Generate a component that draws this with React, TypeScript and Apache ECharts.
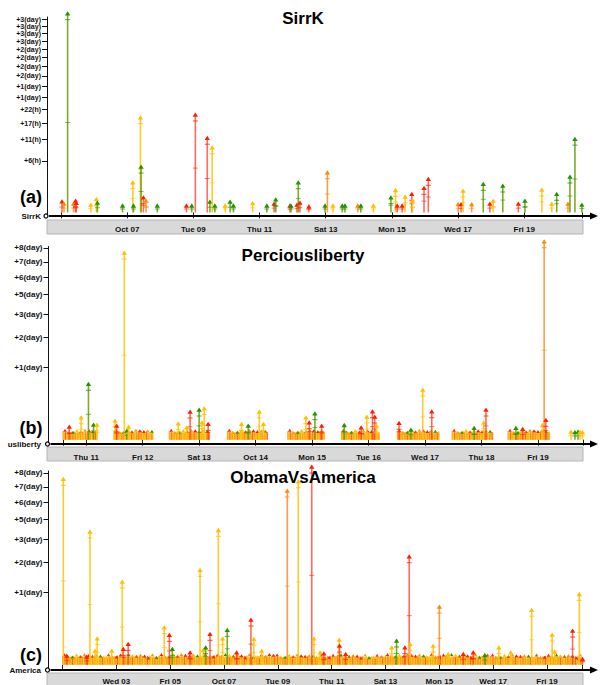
import React, { useEffect, useRef } from 'react';
import * as echarts from 'echarts';

// ---------- shared ----------
const FONT = 'Liberation Sans, Arial, sans-serif';
const COLOR_KEYS = ['g', 'y', 'o', 'r'];
const LINE_COLORS = ['rgba(105,155,0,0.85)', 'rgba(255,196,20,0.9)', 'rgba(255,140,40,0.85)', 'rgba(255,45,25,0.7)'];
const MARK_COLORS = ['#1f9600', '#ffbf00', '#ff8a00', '#ff1f00'];

// ---------- panel (a) SirrK ----------
const titleA = 'SirrK';
const yTickHoursA = [5.6, 11.2, 16.8, 22.4, 28, 33.6, 39.2, 44.8, 50.4, 56, 61.6, 67.2, 72.8, 78.4];
const yTickLabelsA = ['+6(h)', '+11(h)', '+17(h)', '+22(h)', '+1(day)', '+1(day)', '+2(day)', '+2(day)', '+2(day)', '+2(day)', '+3(day)', '+3(day)', '+3(day)', '+3(day)'];
const xTickDaysA = [5, 7, 9, 11, 13, 15, 17, 19, 20.744];
const xLabelDaysA = [7, 9, 11, 13, 15, 17, 19];
const xLabelsA = ['Oct 07', 'Tue 09', 'Thu 11', 'Sat 13', 'Mon 15', 'Wed 17', 'Fri 19'];
// [day of October 2012, hours, colour]
const eventsA: [number, number, string][] = [
  [5.03, 0.29, 'r'], [5.09, 0.19, 'o'], [5.2, 83.9, 'g'], [5.38, 0.19, 'o'], [5.44, 0.32, 'r'], [5.46, 0.22, 'r'],
  [5.9, 0.15, 'y'], [6.07, 0.42, 'y'], [6.1, 0.23, 'g'], [6.86, 0.12, 'g'], [7.17, 1.98, 'y'], [7.19, 0.12, 'g'],
  [7.4, 19.3, 'y'], [7.42, 4.53, 'g'], [7.49, 0.52, 'r'], [7.57, 0.32, 'o'], [7.91, 0.12, 'g'], [8.79, 0.12, 'r'],
  [8.95, 0.12, 'g'], [9.06, 20.4, 'r'], [9.42, 11.9, 'r'], [9.5, 0.27, 'g'], [9.57, 9.08, 'y'], [9.65, 0.12, 'g'],
  [9.96, 0.12, 'y'], [10.11, 0.27, 'g'], [10.21, 0.12, 'g'], [10.79, 0.21, 'y'], [11.22, 0.12, 'g'], [11.44, 0.19, 'r'],
  [11.49, 0.39, 'g'], [11.92, 0.12, 'r'], [11.95, 0.12, 'g'], [12.13, 0.15, 'r'], [12.17, 1.98, 'g'], [12.22, 0.23, 'r'],
  [12.49, 0.09, 'r'], [12.98, 0.12, 'g'], [13.05, 3.49, 'o'], [13.22, 0.12, 'y'], [13.5, 0.12, 'g'], [13.58, 0.12, 'g'],
  [13.97, 0.12, 'o'], [14.06, 0.12, 'g'], [14.44, 0.12, 'y'], [14.97, 0.52, 'g'], [15.11, 1.12, 'y'], [15.16, 0.12, 'r'],
  [15.31, 0.12, 'r'], [15.4, 0.57, 'y'], [15.6, 0.77, 'r'], [15.62, 0.32, 'y'], [15.97, 1.33, 'r'], [16.1, 2.45, 'r'],
  [17.0, 0.17, 'o'], [17.09, 0.17, 'r'], [17.15, 1.06, 'y'], [17.41, 0.17, 'o'], [17.76, 1.78, 'g'], [17.96, 0.19, 'r'],
  [18.06, 0.32, 'y'], [18.35, 1.58, 'g'], [18.82, 0.19, 'r'], [19.02, 0.32, 'g'], [19.53, 1.15, 'y'], [19.83, 0.19, 'y'],
  [19.98, 0.77, 'g'], [20.32, 0.19, 'o'], [20.38, 2.79, 'g'], [20.53, 11.6, 'g'], [20.74, 0.15, 'g'],
];

// ---------- panel (b) Perciousliberty ----------
const titleB = 'Perciousliberty';
const yTickHoursB = [27.4, 54.8, 82.2, 109.6, 137, 164.4, 191.8];
const yTickLabelsB = ['+1(day)', '+2(day)', '+3(day)', '+5(day)', '+6(day)', '+7(day)', '+8(day)'];
const xTickDaysB = [10.589, 11, 12, 13, 14, 15, 16, 17, 18, 19, 19.798];
const xLabelDaysB = [11, 12, 13, 14, 15, 16, 17, 18, 19];
const xLabelsB = ['Thu 11', 'Fri 12', 'Sat 13', 'Oct 14', 'Mon 15', 'Tue 16', 'Wed 17', 'Thu 18', 'Fri 19'];
const eventsB: [number, number, string][] = [
  [10.7, 0.98, 'r'], [10.91, 2.75, 'y'], [11.04, 16.6, 'g'], [11.13, 1.28, 'g'], [11.19, 1.28, 'y'], [11.51, 2.02, 'y'],
  [11.54, 1.12, 'r'], [11.675, 183.4, 'y'], [11.72, 0.49, 'g'], [11.75, 0.98, 'y'], [12.63, 1.5, 'y'], [12.78, 0.88, 'y'],
  [12.84, 4.29, 'r'], [13.0, 4.9, 'g'], [13.05, 1.69, 'y'], [13.09, 5.33, 'y'], [13.16, 1.4, 'r'], [13.75, 1.4, 'y'],
  [13.87, 1.12, 'g'], [14.065, 4.29, 'y'], [14.14, 1.4, 'y'], [14.89, 2.75, 'y'], [14.95, 1.69, 'r'], [15.05, 3.79, 'g'],
  [15.17, 1.12, 'r'], [15.57, 1.23, 'g'], [15.87, 0.88, 'r'], [15.97, 2.92, 'y'], [16.07, 4.38, 'r'], [16.11, 2.92, 'r'],
  [16.14, 1.12, 'y'], [16.54, 1.58, 'r'], [16.75, 0.6, 'g'], [16.96, 13.4, 'y'], [17.12, 4.38, 'r'], [17.87, 0.8, 'g'],
  [18.04, 1.69, 'y'], [18.08, 4.9, 'r'], [18.61, 0.8, 'g'], [18.73, 0.68, 'r'], [19.08, 1.23, 'y'], [19.11, 206.1, 'o'],
  [19.14, 2.17, 'r'], [19.585, 0.39, 'y'], [19.655, 0.36, 'g'], [19.71, 0.39, 'g'], [19.745, 0.39, 'y'], [19.788, 0.36, 'y'],
];
// dense bursts: [start day, end day, typical hours]
const blocksB: [number, number, number][] = [
  [10.589, 11.19, 0.38], [11.49, 12.19, 0.38], [12.47, 13.19, 0.38], [13.5, 14.21, 0.38], [14.57, 15.23, 0.38],
  [15.52, 16.2, 0.38], [16.51, 17.26, 0.38], [17.48, 18.21, 0.38], [18.47, 19.21, 0.38],
];

// ---------- panel (c) ObamaVsAmerica ----------
const titleC = 'ObamaVsAmerica';
const yTickHoursC = [27.4, 54.8, 82.2, 109.6, 137, 164.4, 191.8];
const yTickLabelsC = ['+1(day)', '+2(day)', '+3(day)', '+5(day)', '+6(day)', '+7(day)', '+8(day)'];
const xTickDaysC = [1, 3, 5, 7, 9, 11, 13, 15, 17, 19, 20.326];
const xLabelDaysC = [3, 5, 7, 9, 11, 13, 15, 17, 19];
const xLabelsC = ['Wed 03', 'Fri 05', 'Oct 07', 'Tue 09', 'Thu 11', 'Sat 13', 'Mon 15', 'Wed 17', 'Fri 19'];
const eventsC: [number, number, string][] = [
  [1.03, 180.9, 'y'], [1.16, 0.49, 'r'], [1.9, 0.39, 'r'], [2.02, 93.1, 'y'], [2.21, 1.12, 'y'], [2.29, 3.79, 'y'],
  [2.83, 1.12, 'y'], [3.22, 36.5, 'y'], [3.26, 1.4, 'r'], [3.44, 2.38, 'r'], [4.78, 7.52, 'y'], [4.97, 4.81, 'r'],
  [5.08, 1.4, 'g'], [5.74, 0.88, 'r'], [6.11, 47.4, 'y'], [6.23, 1.23, 'y'], [6.32, 1.69, 'g'], [6.48, 5.13, 'r'],
  [6.79, 95.4, 'y'], [6.95, 3.79, 'y'], [7.12, 6.52, 'g'], [7.47, 0.88, 'r'], [8.0, 10.87, 'r'], [8.11, 3.63, 'y'],
  [8.4, 1.12, 'y'], [9.35, 158.9, 'o'], [9.76, 176.2, 'y'], [10.26, 205.5, 'r'], [10.34, 3.79, 'y'], [10.57, 0.88, 'y'],
  [10.71, 0.75, 'r'], [11.28, 3.44, 'y'], [11.29, 2.02, 'r'], [11.52, 0.68, 'r'], [13.23, 1.69, 'y'], [13.41, 3.18, 'g'],
  [13.72, 1.69, 'r'], [13.88, 61.8, 'r'], [13.91, 2.38, 'y'], [14.77, 2.02, 'y'], [15.0, 17.9, 'o'], [15.33, 0.68, 'y'],
  [15.89, 0.68, 'r'], [16.26, 0.88, 'r'], [16.69, 0.56, 'g'], [17.21, 1.69, 'y'], [17.65, 0.88, 'y'], [18.43, 16.0, 'y'],
  [19.19, 4.9, 'y'], [19.29, 0.98, 'y'], [19.95, 6.27, 'r'], [20.2, 26.5, 'y'], [20.32, 0.21, 'r'],
];
const blocksC: [number, number, number][] = [
  [1.0, 4.6, 0.42], [4.6, 8.9, 0.44], [8.9, 13.0, 0.4], [13.0, 16.9, 0.44], [16.9, 20.32, 0.4],
];

// ---------- layout (pixels) ----------
const PANELS = [
  { title: titleA, tag: '(a)', name: 'SirrK', yTickHours: yTickHoursA, yTickLabels: yTickLabelsA, xTicks: xTickDaysA,
    xLabelDays: xLabelDaysA, xLabels: xLabelsA, events: eventsA, blocks: [] as [number, number, number][], yFont: 7,
    left: 61, right: 18, top: 17, axisY: 216, zeroY: 212.4, k: 21.8, yAxisX: 47, titleY: 18, tagY: 197, bandTop: 220, bandBottom: 234, labelMargin: 9 },
  { title: titleB, tag: '(b)', name: 'usliberty', yTickHours: yTickHoursB, yTickLabels: yTickLabelsB, xTicks: xTickDaysB,
    xLabelDays: xLabelDaysB, xLabels: xLabelsB, events: eventsB, blocks: blocksB, yFont: 8,
    left: 63, right: 17, top: 246.5, axisY: 444, zeroY: 439.7, k: 13.86, yAxisX: 48.5, titleY: 255, tagY: 428, bandTop: 447, bandBottom: 461, labelMargin: 9 },
  { title: titleC, tag: '(c)', name: 'America', yTickHours: yTickHoursC, yTickLabels: yTickLabelsC, xTicks: xTickDaysC,
    xLabelDays: xLabelDaysC, xLabels: xLabelsC, events: eventsC, blocks: blocksC, yFont: 8,
    left: 62.5, right: 17.3, top: 471, axisY: 670, zeroY: 664.7, k: 13.86, yAxisX: 48.5, titleY: 477, tagY: 655, bandTop: 673, bandBottom: 690, labelMargin: 7 },
];
const X_RANGE = [[5, 20.744], [10.589, 19.798], [1, 20.326]];

const STRIPES = ['#ff9400', '#ffbe00', '#ff5a14', '#ffa800', '#f59a00', '#ffc814', '#ff7a00', '#e8b400', '#ff3c10', '#ffb000', '#ff8c00', '#ffd000'];
const STRIPE_H = [1, 0.82, 0.95, 0.7, 1, 0.88, 0.76, 0.93, 0.65, 0.97, 0.85];
const TOP_MARKS = ['#ff2200', '#ffa000', '#2a9a00', '#ffc000', '#ff4400', '#ff9000', '#ff1a00'];

function renderEvent(_params: any, api: any) {
  const x = api.value(0);
  const v = api.value(1);
  const ci = api.value(2);
  const base = api.coord([x, 0]);
  const top = api.coord([x, v]);
  const h = base[1] - top[1];
  const mark = MARK_COLORS[ci];
  const children: any[] = [
    { type: 'line', shape: { x1: base[0], y1: base[1], x2: top[0], y2: top[1] }, style: { stroke: LINE_COLORS[ci], lineWidth: 1.6 } },
  ];
  if (h > 12) {
    children.push({ type: 'line', shape: { x1: top[0] - 2.5, y1: top[1] + 7, x2: top[0] + 2.5, y2: top[1] + 7 }, style: { stroke: mark, lineWidth: 1, opacity: 0.8 } });
  }
  children.push({ type: 'line', shape: { x1: top[0] - 2.5, y1: base[1] - h * 0.45, x2: top[0] + 2.5, y2: base[1] - h * 0.45 }, style: { stroke: mark, lineWidth: 1, opacity: 0.6 } });
  children.push({ type: 'polygon', shape: { points: [[top[0], top[1] - 1.5], [top[0] - 2.7, top[1] + 2.8], [top[0] + 2.7, top[1] + 2.8]] }, style: { fill: mark } });
  return { type: 'group', children };
}

function renderBlock(_params: any, api: any) {
  const s = api.value(0);
  const e = api.value(1);
  const v = api.value(2);
  const p0 = api.coord([s, 0]);
  const p1 = api.coord([e, v]);
  const x0 = p0[0];
  const x1 = p1[0];
  const yb = p0[1];
  const yt = p1[1];
  const h = yb - yt;
  const children: any[] = [
    { type: 'rect', shape: { x: x0, y: yt + 1, width: x1 - x0, height: h - 1 }, style: { fill: 'rgba(255,165,0,0.7)' } },
  ];
  let i = 0;
  for (let x = x0; x <= x1; x += 1.25, i++) {
    const hh = h * STRIPE_H[i % STRIPE_H.length];
    children.push({ type: 'line', shape: { x1: x, y1: yb, x2: x, y2: yb - hh }, style: { stroke: STRIPES[i % STRIPES.length], lineWidth: 1, opacity: 0.9 } });
  }
  for (let k = 1; k <= 3; k++) {
    const y = yb - (h * k) / 4;
    children.push({ type: 'line', shape: { x1: x0, y1: y, x2: x1, y2: y }, style: { stroke: 'rgba(255,200,40,0.6)', lineWidth: 0.8, lineDash: [2, 1] } });
  }
  let j = 0;
  for (let x = x0 + 2; x <= x1 - 1; x += 4, j++) {
    const yy = yb - h * STRIPE_H[(j * 3) % STRIPE_H.length];
    children.push({ type: 'polygon', shape: { points: [[x, yy - 2.4], [x - 1.8, yy + 0.6], [x + 1.8, yy + 0.6]] }, style: { fill: TOP_MARKS[j % TOP_MARKS.length] } });
  }
  return { type: 'group', children };
}

function buildOption() {
  const grid: any[] = [];
  const xAxis: any[] = [];
  const yAxis: any[] = [];
  const series: any[] = [];
  const graphic: any[] = [];
  PANELS.forEach((p, i) => {
    const height = p.axisY - p.top;
    const yMin = -(p.axisY - p.zeroY) / p.k;
    const yMax = yMin + height / p.k;
    grid.push({ left: p.left, right: p.right, top: p.top, height });
    const yVals = p.yTickHours.map((hr) => Math.sqrt(hr));
    xAxis.push({
      type: 'value', gridIndex: i, min: X_RANGE[i][0], max: X_RANGE[i][1],
      axisLine: { show: false }, splitLine: { show: false },
      axisTick: { show: true, customValues: p.xTicks, length: 6, lineStyle: { color: '#222', width: 1 } },
      axisLabel: {
        show: true, customValues: p.xLabelDays, margin: p.labelMargin, fontSize: 8, fontWeight: 'bold', color: '#111', fontFamily: FONT,
        formatter: (v: number) => { const idx = p.xLabelDays.findIndex((d) => Math.abs(d - v) < 1e-6); return idx >= 0 ? p.xLabels[idx] : ''; },
      },
    });
    yAxis.push({
      type: 'value', gridIndex: i, min: yMin, max: yMax, position: 'left', offset: p.left - p.yAxisX,
      axisLine: { show: true, lineStyle: { color: '#111', width: 1 } }, splitLine: { show: false },
      axisTick: { show: true, customValues: yVals, length: 5, lineStyle: { color: '#111', width: 1 } },
      axisLabel: {
        show: true, customValues: yVals, margin: 6, fontSize: p.yFont, lineHeight: 6.5, fontWeight: 'bold', color: '#111', fontFamily: FONT,
        formatter: (v: number) => { const idx = yVals.findIndex((d) => Math.abs(d - v) < 1e-6); return idx >= 0 ? p.yTickLabels[idx] : ''; },
      },
    });
    if (p.blocks.length) {
      series.push({
        type: 'custom', xAxisIndex: i, yAxisIndex: i, silent: true, renderItem: renderBlock,
        encode: { x: [0, 1], y: 2 },
        data: p.blocks.map(([s, e, hr]) => [s, e, Math.sqrt(hr)]),
        z: 2,
      });
    }
    series.push({
      type: 'custom', xAxisIndex: i, yAxisIndex: i, silent: true, renderItem: renderEvent,
      encode: { x: 0, y: 1 },
      data: p.events.map(([d, hr, c]) => [d, Math.sqrt(hr), COLOR_KEYS.indexOf(c)]),
      z: 3,
    });
    // decorations
    graphic.push({ type: 'rect', z: -5, shape: { x: 47, y: p.bandTop, width: 536, height: p.bandBottom - p.bandTop }, style: { fill: '#d9d9d9', stroke: '#b5b5b5', lineWidth: 1 } });
    graphic.push({ type: 'line', z: 50, shape: { x1: p.yAxisX + 2, y1: p.axisY, x2: 592, y2: p.axisY }, style: { stroke: '#000', lineWidth: 1.8 } });
    graphic.push({ type: 'polygon', z: 50, shape: { points: [[590, p.axisY - 3.5], [598, p.axisY], [590, p.axisY + 3.5]] }, style: { fill: '#000' } });
    graphic.push({ type: 'circle', z: 50, shape: { cx: p.yAxisX - 1, cy: p.axisY, r: 2 }, style: { fill: '#fff', stroke: '#000', lineWidth: 1.2 } });
    graphic.push({ type: 'text', z: 50, x: 303, y: p.titleY, style: { text: p.title, fill: '#000', font: `bold 17px ${FONT}`, textAlign: 'center', textVerticalAlign: 'middle' } });
    graphic.push({ type: 'text', z: 50, x: 31, y: p.tagY, style: { text: p.tag, fill: '#000', font: `bold 18px ${FONT}`, textAlign: 'center', textVerticalAlign: 'middle' } });
    graphic.push({ type: 'text', z: 50, x: 41, y: p.axisY, style: { text: p.name, fill: '#111', font: `bold 8px ${FONT}`, textAlign: 'right', textVerticalAlign: 'middle' } });
  });
  return { animation: false, backgroundColor: '#fff', grid, xAxis, yAxis, series, graphic };
}

export default function App() {
  const ref = useRef<HTMLDivElement>(null);
  useEffect(() => {
    if (!ref.current) return;
    const chart = echarts.init(ref.current, undefined, { renderer: 'svg' });
    chart.setOption(buildOption() as any);
    return () => chart.dispose();
  }, []);
  return <div ref={ref} style={{ position: 'absolute', left: 0, top: 0, width: 600, height: 685 }} />;
}
